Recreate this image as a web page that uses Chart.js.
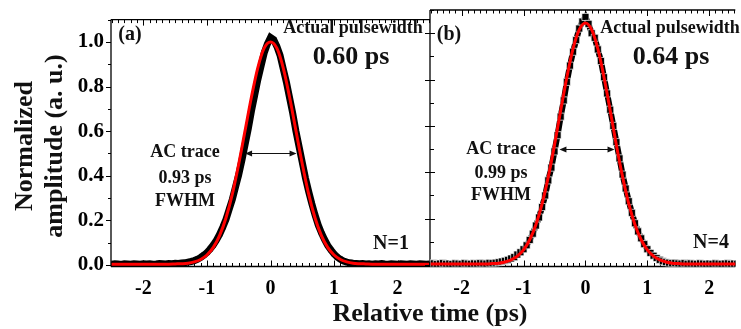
<!DOCTYPE html>
<html><head><meta charset="utf-8">
<script src="https://cdn.jsdelivr.net/npm/chart.js@4.4.0/dist/chart.umd.min.js"></script>
<style>
html,body{margin:0;padding:0;background:#fff;}
#wrap{position:relative;width:741px;height:329px;overflow:hidden;font-family:"Liberation Serif","Times New Roman",serif;font-weight:bold;color:#111;}
canvas{position:absolute;left:0;top:0;}
.t{position:absolute;white-space:nowrap;line-height:1;transform:translate(-50%,-50%);}
.r{transform:translate(-50%,-50%) rotate(-90deg);}
</style></head><body>
<div id="wrap">
<canvas id="ca" width="741" height="329"></canvas>
<canvas id="cb" width="741" height="329"></canvas>
<div class="t" style="left:130px;top:33px;font-size:20px">(a)</div>
<div class="t" style="left:353px;top:27px;font-size:18px">Actual pulsewidth</div>
<div class="t" style="left:351px;top:56px;font-size:26px">0.60 ps</div>
<div class="t" style="left:185px;top:151px;font-size:18px">AC trace</div>
<div class="t" style="left:185px;top:177px;font-size:18px">0.93 ps</div>
<div class="t" style="left:185px;top:200px;font-size:18px">FWHM</div>
<div class="t" style="left:391px;top:242px;font-size:20px">N=1</div>
<div class="t" style="left:449px;top:33px;font-size:20px">(b)</div>
<div class="t" style="left:670px;top:27px;font-size:18px">Actual pulsewidth</div>
<div class="t" style="left:671px;top:56px;font-size:26px">0.64 ps</div>
<div class="t" style="left:501px;top:148px;font-size:18px">AC trace</div>
<div class="t" style="left:501px;top:172px;font-size:18px">0.99 ps</div>
<div class="t" style="left:501px;top:194px;font-size:18px">FWHM</div>
<div class="t" style="left:711px;top:241px;font-size:20px">N=4</div>
<div class="t" style="left:430px;top:313px;font-size:26px">Relative time (ps)</div>
<div class="t r" style="left:24px;top:146px;font-size:26px">Normalized</div>
<div class="t r" style="left:54px;top:146px;font-size:26px">amplitude (a. u.)</div>
</div>
<script>
// ---- data ----
const timeAC = [
 -2.5,-2.45,-2.4,-2.35,-2.3,-2.25,-2.2,-2.15,-2.1,-2.05,
 -2,-1.95,-1.9,-1.85,-1.8,-1.75,-1.7,-1.65,-1.6,-1.55,
 -1.5,-1.45,-1.4,-1.35,-1.3,-1.25,-1.2,-1.15,-1.1,-1.05,
 -1,-0.95,-0.9,-0.85,-0.8,-0.75,-0.7,-0.65,-0.6,-0.55,
 -0.5,-0.45,-0.4,-0.35,-0.3,-0.25,-0.2,-0.15,-0.1,-0.05,
 0,0.05,0.1,0.15,0.2,0.25,0.3,0.35,0.4,0.45,
 0.5,0.55,0.6,0.65,0.7,0.75,0.8,0.85,0.9,0.95,
 1,1.05,1.1,1.15,1.2,1.25,1.3,1.35,1.4,1.45,
 1.5,1.55,1.6,1.65,1.7,1.75,1.8,1.85,1.9,1.95,
 2,2.05,2.1,2.15,2.2,2.25,2.3,2.35,2.4,2.45,2.5];
const acTraceN1 = [
 0.004,0.006,0.005,0.003,0.006,0.005,0.004,0.006,0.005,0.004,
 0.006,0.005,0.006,0.004,0.005,0.007,0.006,0.005,0.007,0.006,
 0.008,0.007,0.009,0.010,0.013,0.016,0.020,0.026,0.034,0.044,
 0.056,0.072,0.090,0.112,0.138,0.170,0.205,0.250,0.295,0.350,
 0.405,0.470,0.540,0.610,0.690,0.760,0.830,0.890,0.950,0.990,
 1.020,1.010,0.980,0.940,0.880,0.820,0.750,0.680,0.600,0.530,
 0.460,0.390,0.330,0.275,0.225,0.180,0.145,0.115,0.088,0.068,
 0.050,0.036,0.026,0.018,0.013,0.010,0.008,0.007,0.006,0.007,
 0.005,0.006,0.004,0.006,0.005,0.007,0.005,0.004,0.006,0.005,
 0.004,0.006,0.005,0.004,0.006,0.005,0.004,0.006,0.005,0.004,0.005];
const acTraceN4 = [
 0.005,0.007,0.004,0.006,0.008,0.005,0.006,0.004,0.007,0.006,
 0.005,0.008,0.006,0.005,0.007,0.006,0.008,0.007,0.006,0.009,
 0.008,0.010,0.012,0.015,0.018,0.022,0.028,0.034,0.045,0.055,
 0.068,0.085,0.108,0.135,0.170,0.205,0.250,0.300,0.365,0.420,
 0.490,0.560,0.640,0.710,0.790,0.860,0.920,0.970,1.020,1.050,
 1.070,1.040,1.000,0.980,0.930,0.880,0.810,0.740,0.670,0.600,
 0.530,0.460,0.390,0.330,0.275,0.225,0.180,0.145,0.115,0.090,
 0.068,0.052,0.040,0.030,0.022,0.016,0.012,0.010,0.008,0.009,
 0.007,0.006,0.008,0.005,0.007,0.006,0.005,0.007,0.006,0.005,
 0.006,0.005,0.007,0.006,0.005,0.006,0.007,0.005,0.006,0.005,0.006];
const timeFit = [
 -2.5,-2.4,-2.3,-2.2,-2.1,-2,-1.9,-1.8,-1.7,-1.6,
 -1.5,-1.4,-1.3,-1.2,-1.1,-1,-0.9,-0.8,-0.7,-0.6,
 -0.5,-0.4,-0.3,-0.2,-0.1,0,0.1,0.2,0.3,0.4,
 0.5,0.6,0.7,0.8,0.9,1,1.1,1.2,1.3,1.4,
 1.5,1.6,1.7,1.8,1.9,2,2.1,2.2,2.3,2.4,2.5];
const fitN1 = [
 0.004,0.004,0.004,0.004,0.004,0.004,0.004,0.004,0.004,0.004,
 0.005,0.006,0.008,0.014,0.025,0.045,0.079,0.133,0.212,0.319,
 0.453,0.603,0.753,0.884,0.972,1.000,0.972,0.884,0.753,0.603,
 0.453,0.319,0.212,0.133,0.079,0.045,0.025,0.014,0.008,0.006,
 0.005,0.004,0.004,0.004,0.004,0.004,0.004,0.004,0.004,0.004,0.004];
const fitN4 = [
 0.004,0.004,0.004,0.004,0.004,0.004,0.004,0.004,0.004,0.004,
 0.006,0.008,0.013,0.022,0.038,0.065,0.109,0.174,0.264,0.380,
 0.517,0.666,0.810,0.933,1.015,1.044,1.015,0.933,0.810,0.666,
 0.517,0.380,0.264,0.174,0.109,0.065,0.038,0.022,0.013,0.008,
 0.006,0.004,0.004,0.004,0.004,0.004,0.004,0.004,0.004,0.004,0.004];
const xTickValues = [-2,-1,0,1,2];
const yTickLabels = ['0.0','0.2','0.4','0.6','0.8','1.0'];
const fwhmArrowN1 = [-0.40, 0.41, 0.50];
const fwhmArrowN4 = [-0.42, 0.47, 0.50];

// ---- helpers ----
const pts = (xs, ys) => xs.map((x, i) => ({x, y: ys[i]}));
const FONT = "'Liberation Serif', 'Times New Roman', serif";
Chart.defaults.font.family = FONT;

const framePlugin = {
  id: 'frame',
  beforeDatasetsDraw(chart, args, o) {
    const {ctx, chartArea: a, scales: {x, y}} = chart;
    ctx.save();
    ctx.strokeStyle = '#000';
    ctx.lineWidth = 1.3;
    ctx.beginPath();
    ctx.moveTo(a.left, a.top); ctx.lineTo(a.right, a.top);
    ctx.moveTo(a.left, a.bottom); ctx.lineTo(a.right, a.bottom);
    ctx.moveTo(a.left, a.top); ctx.lineTo(a.left, a.bottom);
    ctx.stroke();
    ctx.lineWidth = 1;
    ctx.beginPath();
    for (let i = Math.ceil(x.min * 10); i <= Math.floor(x.max * 10); i++) {
      const px = Math.round(x.getPixelForValue(i / 10)) + 0.5;
      const len = i % 10 === 0 ? 6 : 3.5;
      ctx.moveTo(px, a.bottom); ctx.lineTo(px, a.bottom - len);
      ctx.moveTo(px, a.top); ctx.lineTo(px, a.top + len);
    }
    for (let i = Math.ceil(y.min * 10); i <= Math.floor(y.max * 10); i++) {
      const py = Math.round(y.getPixelForValue(i / 10)) + 0.5;
      const major = i % 2 === 0;
      const out = major ? 5 : (o.both ? 0 : 3);
      const inn = o.both ? (major ? 5 : 4) : 0;
      ctx.moveTo(a.left - out, py); ctx.lineTo(a.left + inn, py);
    }
    ctx.stroke();
    ctx.restore();
  },
  afterDatasetsDraw(chart, args, o) {
    if (!o.arrow) return;
    const {ctx, scales: {x, y}} = chart;
    const x0 = x.getPixelForValue(o.arrow[0]), x1 = x.getPixelForValue(o.arrow[1]);
    const py = Math.round(y.getPixelForValue(o.arrow[2])) + 0.5;
    ctx.save();
    ctx.strokeStyle = '#111'; ctx.fillStyle = '#111'; ctx.lineWidth = 1;
    ctx.beginPath(); ctx.moveTo(x0 + 2, py); ctx.lineTo(x1 - 2, py); ctx.stroke();
    ctx.beginPath();
    ctx.moveTo(x0, py); ctx.lineTo(x0 + 7, py - 3); ctx.lineTo(x0 + 7, py + 3); ctx.closePath();
    ctx.moveTo(x1, py); ctx.lineTo(x1 - 7, py - 3); ctx.lineTo(x1 - 7, py + 3); ctx.closePath();
    ctx.fill();
    ctx.restore();
  }
};

function makeChart(id, ac, fit, opts) {
  return new Chart(document.getElementById(id), {
    type: 'scatter',
    data: {
      datasets: [
        { data: pts(timeFit, fit), showLine: true, borderColor: '#ff0000', borderWidth: 3,
          pointRadius: 0, cubicInterpolationMode: 'monotone', order: 0 },
        { data: pts(timeAC, ac), showLine: true, borderColor: '#000', borderWidth: opts.acLine,
          pointStyle: 'rect', pointRadius: opts.acRadius, pointBackgroundColor: '#000',
          pointBorderColor: opts.acBorder, pointBorderWidth: opts.acBorderWidth, order: 1 }
      ]
    },
    options: {
      responsive: false, animation: false, events: [],
      layout: { padding: { top: 10, right: opts.padRight, left: 0, bottom: 0 } },
      plugins: { legend: { display: false }, tooltip: { enabled: false },
        frame: { both: opts.both, arrow: opts.arrow } },
      scales: {
        x: { type: 'linear', min: -2.51, max: opts.xMax,
          afterFit: s => { s.height = 62.5; },
          grid: { display: false, drawTicks: false }, border: { display: false },
          ticks: { stepSize: 1, includeBounds: false, padding: 10, color: '#000',
            font: { family: FONT, size: 20, weight: 'bold' },
            callback: v => xTickValues.includes(v) ? String(v) : '' } },
        y: { type: 'linear', min: -0.0065, max: 1.1,
          afterFit: s => { s.width = opts.yWidth; },
          grid: { display: false, drawTicks: false }, border: { display: false },
          ticks: { display: opts.yLabels, stepSize: 0.2, includeBounds: false, padding: 7, color: '#000',
            font: { family: FONT, size: 21, weight: 'bold' },
            callback: v => yTickLabels[Math.round(v / 0.2)] } }
      }
    },
    plugins: [framePlugin]
  });
}

function build() {
  makeChart('ca', acTraceN1, fitN1, { padRight: 311, xMax: 2.51, yWidth: 111, yLabels: true, both: false,
    arrow: fwhmArrowN1, acLine: 7, acRadius: 3.5, acBorder: '#000', acBorderWidth: 0 });
  makeChart('cb', acTraceN4, fitN4, { padRight: 0, xMax: 2.42, yWidth: 430, yLabels: false, both: true,
    arrow: fwhmArrowN4, acLine: 6, acRadius: 5, acBorder: '#fff', acBorderWidth: 0.7 });
}
if (document.fonts && document.fonts.load) {
  document.fonts.load("bold 20px 'Liberation Serif'").then(build, build);
} else { build(); }
</script>
</body></html>
